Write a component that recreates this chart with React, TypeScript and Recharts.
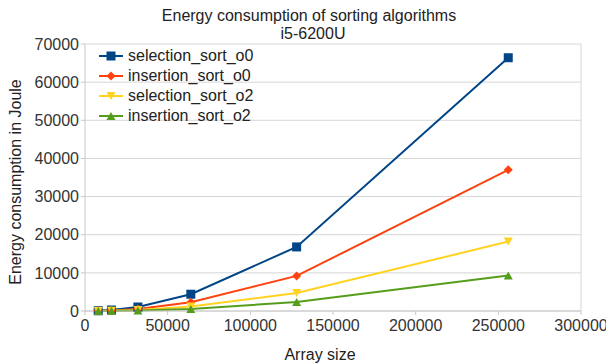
import React from 'react';
import { LineChart, Line, XAxis, YAxis, CartesianGrid, Legend, ReferenceLine } from 'recharts';

const arraySizes = [8000, 16000, 32000, 64000, 128000, 256000];
const selectionO0 = [65, 260, 1050, 4400, 16800, 66400];
const insertionO0 = [33, 130, 520, 2300, 9200, 37000];
const selectionO2 = [18, 70, 290, 1200, 4700, 18200];
const insertionO2 = [10, 40, 150, 550, 2350, 9300];

const xTicks = [0, 50000, 100000, 150000, 200000, 250000, 300000];
const yTicks = [0, 10000, 20000, 30000, 40000, 50000, 60000, 70000];

const seriesDefs = [
  { key: 'selection_sort_o0', values: selectionO0, color: '#004586', shape: 'square' },
  { key: 'insertion_sort_o0', values: insertionO0, color: '#ff420e', shape: 'diamond' },
  { key: 'selection_sort_o2', values: selectionO2, color: '#ffd320', shape: 'down' },
  { key: 'insertion_sort_o2', values: insertionO2, color: '#579d1c', shape: 'up' },
];

const data = arraySizes.map((x, i) => {
  const row: any = { x };
  seriesDefs.forEach((s) => { row[s.key] = s.values[i]; });
  return row;
});

function Marker({ cx, cy, shape, color }: any) {
  if (cx == null || cy == null) return null;
  if (shape === 'square') return <rect x={cx - 4.5} y={cy - 4.5} width={9} height={9} fill={color} />;
  if (shape === 'diamond') return <polygon points={`${cx},${cy - 4.5} ${cx + 4.5},${cy} ${cx},${cy + 4.5} ${cx - 4.5},${cy}`} fill={color} />;
  if (shape === 'down') return <polygon points={`${cx - 4.5},${cy - 4} ${cx + 4.5},${cy - 4} ${cx},${cy + 4}`} fill={color} />;
  return <polygon points={`${cx - 4.5},${cy + 4} ${cx + 4.5},${cy + 4} ${cx},${cy - 4}`} fill={color} />;
}

const font = '"Liberation Sans", Arial, sans-serif';

function renderLegend() {
  return (
    <div style={{ fontFamily: font, fontSize: 16, color: '#222' }}>
      {seriesDefs.map((s) => (
        <div key={s.key} style={{ height: 20, display: 'flex', alignItems: 'center' }}>
          <svg width={30} height={20} style={{ display: 'block' }}>
            <line x1={2} y1={10} x2={26} y2={10} stroke={s.color} strokeWidth={2} />
            <Marker cx={14} cy={10} shape={s.shape} color={s.color} />
          </svg>
          <span style={{ marginLeft: 1 }}>{s.key}</span>
        </div>
      ))}
    </div>
  );
}

export default function App() {
  return (
    <div style={{ position: 'absolute', left: 0, top: 0, width: 606, height: 364, background: '#fff', fontFamily: font }}>
      <div style={{ position: 'absolute', left: 0, width: 618, top: 6, textAlign: 'center', fontSize: 16, color: '#222', lineHeight: '19px' }}>
        Energy consumption of sorting algorithms
      </div>
      <div style={{ position: 'absolute', left: 0, width: 626, top: 24, textAlign: 'center', fontSize: 16, color: '#222', lineHeight: '19px' }}>
        i5-6200U
      </div>
      <LineChart width={606} height={364} data={data} margin={{ top: 44, right: 25, bottom: 23, left: 0 }} style={{ position: 'absolute', left: 0, top: 0 }}>
        <CartesianGrid vertical={false} stroke="#d6d6d6" strokeWidth={1} />
        <ReferenceLine x={300000} stroke="#d6d6d6" />
        <XAxis
          dataKey="x"
          type="number"
          domain={[0, 300000]}
          ticks={xTicks}
          interval={0}
          height={30}
          tickSize={4}
          tickMargin={5}
          stroke="#c8c8c8"
          tick={{ fill: '#333', fontSize: 16, fontFamily: font }}
          label={() => (
            <text x={320} y={360} textAnchor="middle" fill="#222" fontSize={16} fontFamily={font}>Array size</text>
          )}
        />
        <YAxis
          type="number"
          domain={[0, 70000]}
          ticks={yTicks}
          interval={0}
          width={85}
          tickSize={4}
          tickMargin={2}
          stroke="#c8c8c8"
          tick={{ fill: '#333', fontSize: 16, fontFamily: font }}
          label={() => (
            <text x={21} y={182} transform="rotate(-90 21 182)" textAnchor="middle" fill="#222" fontSize={16} fontFamily={font}>Energy consumption in Joule</text>
          )}
        />
        <Legend
          layout="vertical"
          align="center"
          verticalAlign="middle"
          content={renderLegend}
          wrapperStyle={{ left: 97, top: 46, width: 200, height: 80 }}
        />
        {seriesDefs.map((s) => (
          <Line
            key={s.key}
            dataKey={s.key}
            stroke={s.color}
            strokeWidth={2}
            isAnimationActive={false}
            dot={(p: any) => <Marker key={`${s.key}-${p.index}`} cx={p.cx} cy={p.cy} shape={s.shape} color={s.color} />}
            activeDot={false}
          />
        ))}
      </LineChart>
    </div>
  );
}
